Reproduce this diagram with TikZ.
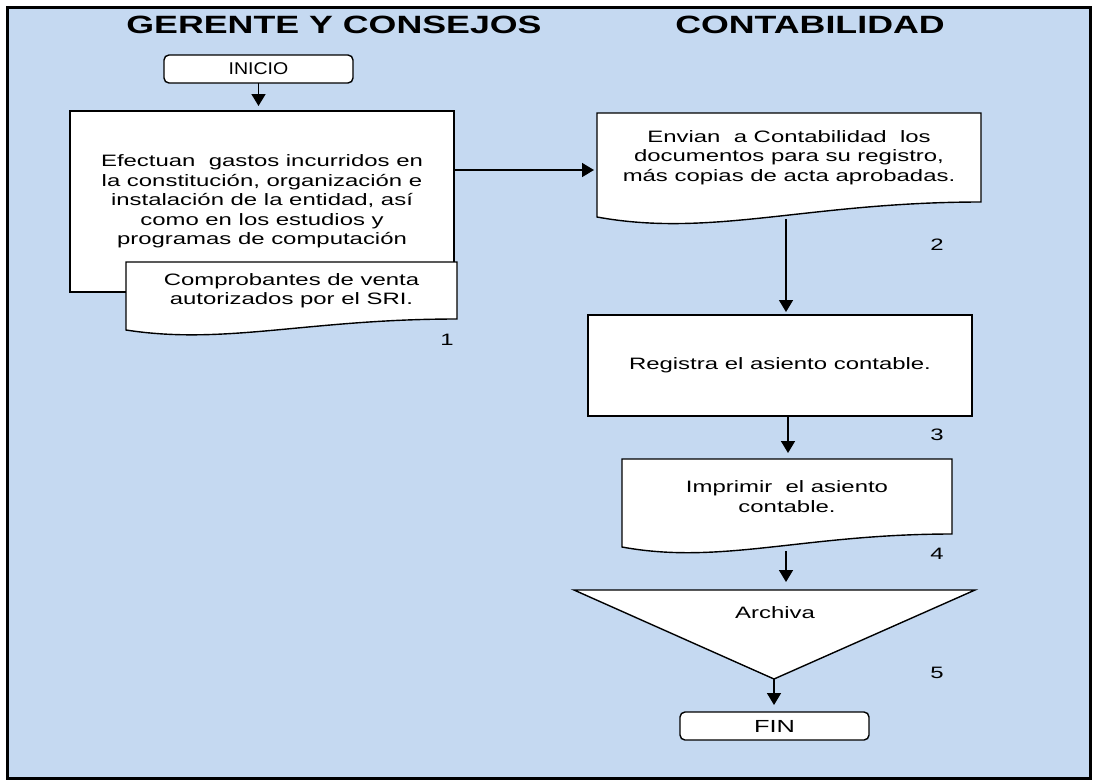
\documentclass[tikz,border=0pt]{standalone}
\usepackage{fontspec}
\setmainfont{Liberation Sans}[FakeStretch=1.45]
\newfontfamily\titlefont{Liberation Sans}[FakeStretch=1.43]
\newfontfamily\inifont{Liberation Sans}[FakeStretch=1.15]
\usetikzlibrary{arrows.meta,calc}
\pgfdeclarelayer{bg}
\pgfdeclarelayer{shapes}
\pgfsetlayers{bg,shapes,main}
\definecolor{bgblue}{RGB}{197,217,241}
\tikzset{
  every node/.style={font=\fontsize{16.5}{19.5}\selectfont, inner sep=0pt, outer sep=0pt},
  boxline/.style={draw=black, line width=1.4pt, fill=white},
  procbox/.style={boxline, minimum width=384pt, minimum height=101pt, align=center},
  termbox/.style={boxline, rounded corners=5pt, minimum width=189pt, minimum height=28pt},
  txtonly/.style={align=center},
  lane/.style={font=\titlefont\bfseries\fontsize{25}{30}\selectfont, anchor=base},
  arr/.style={line width=1.6pt, -{Triangle[width=14pt,length=12pt]}},
}
\newcommand{\docoutline}[2]{\draw[boxline] (#1.north west) -- (#1.north east) -- (#1.south east)
  .. controls ($(#1.south east)!0.45!(#1.south west)$) and ($(#1.south west)!0.3!(#1.south east)+(0,{2.4*#2})$)
  .. ($(#1.south west)+(0,#2)$) -- cycle;}
\begin{document}
\begin{tikzpicture}[x=1pt,y=-1pt]
\useasboundingbox (0,0) rectangle (1094,780);
\begin{pgfonlayer}{bg}
\draw[line width=3pt, fill=bgblue] (7,7) rectangle (1090,778);
\end{pgfonlayer}

\node[lane] (t1) at (334,33) {GERENTE Y CONSEJOS};
\node[lane] (t2) at (810,33) {CONTABILIDAD};

\node[termbox, font=\inifont\fontsize{17}{20}\selectfont] (ini) at (258.5,69) {INICIO};

\node[txtonly, minimum width=384pt, minimum height=181pt] (big) at (262,201.5)
  {Efectuan\ \ gastos incurridos en\\ la constitución, organización e\\ instalación de la entidad, así\\ como en los estudios y\\ programas de computación};
\node[txtonly, minimum width=331pt, minimum height=57pt] (comp) at (291.5,290.5)
  {Comprobantes de venta\\ autorizados por el SRI.};
\node (n1) at (447,340) {1};

\node[txtonly, minimum width=384pt, minimum height=89pt] (env) at (789,157.5)
  {Envian\ \ a Contabilidad\ \ los\\ documentos para su registro,\\ más copias de acta aprobadas.};
\node (n2) at (937,245) {2};

\node[procbox] (reg) at (780,365.5) {Registra el asiento contable.};
\node (n3) at (937,435) {3};

\node[txtonly, minimum width=330pt, minimum height=75pt] (imp) at (787,496.5)
  {Imprimir\ \ el asiento\\ contable.};
\node (n4) at (937,554) {4};

\coordinate (triL) at (574,590);
\coordinate (triR) at (975,590);
\coordinate (triB) at (774,679);
\node (arch) at (775,613) {Archiva};
\node (n5) at (937,673) {5};

\node[termbox, font=\fontsize{17.5}{20}\selectfont] (fin) at (774.5,726) {FIN};

\begin{pgfonlayer}{shapes}
\draw[boxline] (big.north west) rectangle (big.south east);
\docoutline{comp}{11}
\docoutline{env}{15}
\docoutline{imp}{13}
\draw[boxline] (triL) -- (triR) -- (triB) -- cycle;
\end{pgfonlayer}

% connectors
\draw[arr, shorten >=5pt] (ini.south) -- (ini.south |- big.north);
\coordinate (a1) at ([yshift=31.5pt]big.east);
\draw[arr, shorten >=3pt] (a1) -- (a1 -| env.west);
\coordinate (e2) at (786,219);
\draw[arr, shorten >=3pt] (e2) -- (e2 |- reg.north);
\coordinate (r2) at ([xshift=8pt]reg.south);
\draw[arr, shorten >=6pt] (r2) -- (r2 |- imp.north);
\coordinate (i2) at (786,551);
\draw[arr, shorten >=8pt] (i2) -- (i2 |- triL);
\draw[arr, shorten >=7pt] (triB) -- (triB |- fin.north);
\end{tikzpicture}
\end{document}
